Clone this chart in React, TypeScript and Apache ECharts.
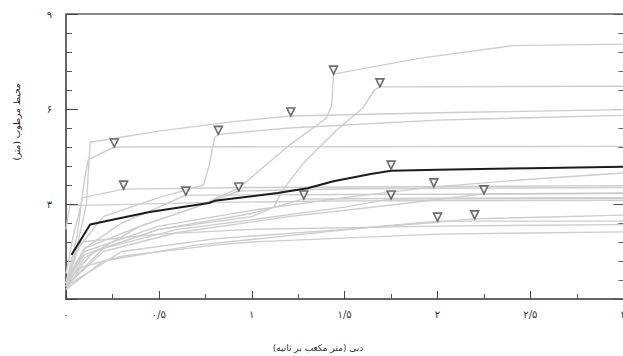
import React, { useEffect, useRef } from "react";
import * as echarts from "echarts";

const xTicks = [0, 0.5, 1, 1.5, 2, 2.5, 3];
const yTicks = [3, 6, 9];
const xName = "دبی (متر مکعب بر ثانیه)";
const yName = "محیط مرطوب (متر)";

// gray curves: [discharge, wetted perimeter]
const curve1 = [[0, 0.5], [0.05, 1.4], [0.11, 3.0], [0.13, 4.95], [0.5, 5.3], [0.9, 5.6], [1.21, 5.78], [2.0, 5.88], [3.0, 5.98]];
const curve2 = [[0, 0.4], [0.05, 1.5], [0.2, 2.6], [0.5, 3.2], [0.74, 3.6], [0.77, 4.2], [0.8, 5.1], [0.82, 5.2], [1.2, 5.4], [2.0, 5.65], [3.0, 5.8]];
const curve3 = [[0, 0.5], [0.06, 2.0], [0.1, 3.8], [0.12, 4.4], [0.26, 4.8], [3.0, 4.82]];
const curveA = [[0, 0.6], [0.1, 1.6], [0.4, 2.3], [0.7, 2.9], [0.93, 3.5], [1.2, 4.85], [1.4, 5.7], [1.43, 6.1], [1.44, 7.1], [1.9, 7.6], [2.4, 8.0], [3.0, 8.05]];
const curveB = [[0, 0.5], [0.1, 1.4], [0.5, 2.2], [1.0, 2.6], [1.12, 2.9], [1.16, 3.4], [1.28, 4.3], [1.46, 5.35], [1.6, 6.05], [1.66, 6.6], [1.69, 6.7], [3.0, 6.72]];
const low1 = [[0, 0.8], [0.04, 2.0], [0.09, 3.2], [0.31, 3.47], [1.0, 3.52], [3.0, 3.58]];
const low2 = [[0, 0.5], [0.1, 1.6], [0.3, 2.4], [0.5, 2.9], [0.645, 3.28], [1.5, 3.3], [3.0, 3.33]];
const low3 = [[0, 0.4], [0.1, 1.3], [0.4, 2.3], [0.7, 2.9], [0.93, 3.41], [1.5, 3.48], [3.0, 3.52]];
const low4 = [[0, 0.5], [0.15, 1.5], [0.5, 2.2], [1.0, 2.7], [1.28, 3.16], [2.0, 3.18], [3.0, 3.2]];
const low5 = [[0, 0.4], [0.2, 1.6], [0.6, 2.2], [1.0, 2.5], [1.5, 2.9], [1.75, 3.16], [3.0, 3.18]];
const low6 = [[0, 0.5], [0.1, 1.5], [0.5, 2.3], [1.0, 2.8], [1.5, 3.2], [1.98, 3.54], [2.5, 3.78], [3.0, 3.98]];
const low7 = [[0, 0.4], [0.2, 1.5], [0.6, 2.1], [1.2, 2.6], [1.8, 3.0], [2.25, 3.32], [3.0, 3.35]];
const low8 = [[0, 0.3], [0.2, 1.2], [0.7, 1.7], [1.2, 2.0], [1.7, 2.3], [2.0, 2.46], [3.0, 2.46]];
const low9 = [[0, 0.4], [0.3, 1.5], [0.8, 1.9], [1.5, 2.2], [1.95, 2.4], [2.2, 2.53], [3.0, 2.65]];
const low10 = [[0, 0.3], [0.08, 1.0], [0.3, 1.35], [0.8, 1.7], [1.0, 1.8], [2.0, 2.05], [3.0, 2.12]];
const low11 = [[0, 0.5], [0.08, 1.8], [0.5, 2.05], [1.0, 2.2], [2.0, 2.3], [3.0, 2.35]];
const low12 = [[0, 2.2], [0.02, 2.95], [0.8, 3.05], [1.5, 3.1], [3.0, 3.12]];

// mean curve (black)
const meanCurve = [[0.03, 1.4], [0.13, 2.35], [0.25, 2.5], [0.45, 2.75], [0.77, 3.03], [0.8, 3.1], [1.14, 3.35], [1.3, 3.5], [1.44, 3.72], [1.64, 3.95], [1.75, 4.05], [2.0, 4.08], [2.5, 4.13], [3.0, 4.18]];

// breakpoints (inverted triangles)
const breakpoints = [
  [0.26, 4.8], [0.82, 5.2], [1.21, 5.78], [1.44, 7.1], [1.69, 6.7],
  [0.31, 3.47], [0.645, 3.28], [0.93, 3.41], [1.28, 3.16], [1.75, 4.1],
  [1.75, 3.16], [1.98, 3.54], [2.25, 3.32], [2.0, 2.46], [2.2, 2.53],
];

const grayCurves = [curve1, curve2, curve3, curveA, curveB, low1, low2, low3, low4, low5, low6, low7, low8, low9, low10, low11, low12];

const fa = (v: number) =>
  String(v).replace(".", "/").replace(/\d/g, (d) => "۰۱۲۳۴۵۶۷۸۹"[+d]);

const FONT = "DejaVu Sans";

export default function App() {
  const ref = useRef<HTMLDivElement>(null);
  useEffect(() => {
    document.body.style.margin = "0";
    document.body.style.overflow = "hidden";
    const chart = echarts.init(ref.current!, null, { renderer: "svg" });
    const series: any[] = grayCurves.map((c, i) => ({
      type: "line",
      name: "g" + i,
      data: c,
      showSymbol: false,
      silent: true,
      lineStyle: { color: "#cdcdcd", width: 1.4 },
      z: 2,
    }));
    series.push({
      type: "line",
      name: "mean",
      data: meanCurve,
      showSymbol: false,
      lineStyle: { color: "#1c1c1c", width: 2 },
      z: 3,
    });
    series.push({
      type: "scatter",
      name: "bp",
      data: breakpoints,
      symbol: "triangle",
      symbolRotate: 180,
      symbolSize: 8,
      symbolOffset: [0, -4],
      itemStyle: { color: "#f4f4f4", borderColor: "#4a4a4a", borderWidth: 1.6 },
      z: 4,
    });
    chart.setOption({
      animation: false,
      grid: { left: 66, top: 14, bottom: 57, right: 0 },
      xAxis: [
        {
          type: "value",
          min: 0,
          max: 3,
          interval: 0.5,
          position: "bottom",
          axisLine: { onZero: false, lineStyle: { color: "#333", width: 1.5 } },
          axisTick: { inside: true, length: 8, lineStyle: { color: "#444" } },
          minorTick: { show: true, splitNumber: 2, length: 5, lineStyle: { color: "#555" } },
          splitLine: { show: false },
          axisLabel: {
            formatter: (v: number) => (xTicks.includes(v) ? fa(v) : ""),
            color: "#333",
            fontFamily: FONT,
            fontSize: 10,
            margin: 10,
          },
        },
        {
          type: "value",
          min: 0,
          max: 3,
          position: "top",
          axisLine: { show: true, onZero: false, lineStyle: { color: "#8a8a8a", width: 2 } },
          axisTick: { show: false },
          axisLabel: { show: false },
          splitLine: { show: false },
        },
      ],
      yAxis: [
        {
          type: "value",
          min: 0,
          max: 9,
          interval: 3,
          position: "left",
          axisLine: { show: true, onZero: false, lineStyle: { color: "#333", width: 1.5 } },
          axisTick: { inside: true, length: 12, lineStyle: { color: "#444" } },
          minorTick: { show: true, splitNumber: 5, length: 6, lineStyle: { color: "#555" } },
          splitLine: { show: false },
          axisLabel: {
            formatter: (v: number) => (yTicks.includes(v) ? fa(v) : ""),
            color: "#333",
            fontFamily: FONT,
            fontSize: 10,
            margin: 14,
          },
        },
        {
          type: "value",
          min: 0,
          max: 9,
          interval: 3,
          position: "right",
          axisLine: { show: true, onZero: false, lineStyle: { color: "#555", width: 1.5 } },
          axisTick: { inside: true, length: 10, lineStyle: { color: "#555" } },
          minorTick: { show: true, splitNumber: 5, length: 5, lineStyle: { color: "#666" } },
          splitLine: { show: false },
          axisLabel: { show: false },
        },
      ],
      graphic: [
        {
          type: "text",
          x: 17,
          y: 122,
          rotation: Math.PI / 2,
          style: { text: yName, fontFamily: FONT, fontSize: 9, fill: "#222", align: "center", verticalAlign: "middle" },
        },
        {
          type: "text",
          x: 318,
          y: 348,
          style: { text: xName, fontFamily: FONT, fontSize: 9, fill: "#333", align: "center", verticalAlign: "middle" },
        },
      ],
      series,
    });
    return () => chart.dispose();
  }, []);
  return <div ref={ref} style={{ width: 629, height: 356 }} />;
}
